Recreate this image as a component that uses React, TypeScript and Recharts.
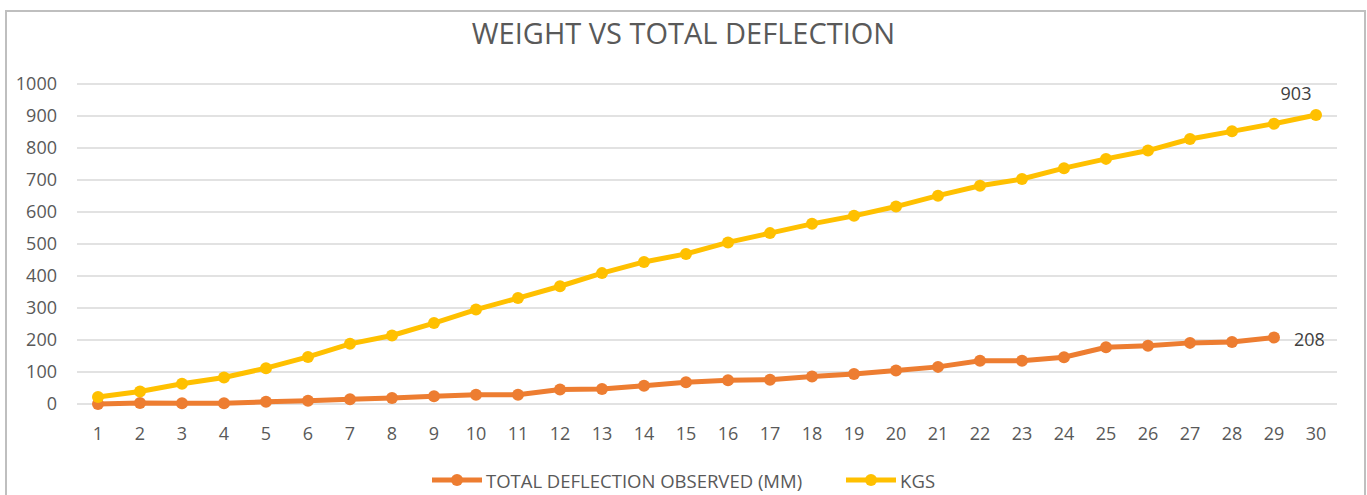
import { CartesianGrid, Legend, Line, LineChart, XAxis, YAxis } from "recharts";

const WIDTH = 1367;
const HEIGHT = 495;
const FONT = "'Open Sans', sans-serif";

const ORANGE = "#ED7D31";
const YELLOW = "#FFC000";

const steps = Array.from({ length: 30 }, (_, i) => String(i + 1));
const deflection = [
  0, 3, 2, 2, 7, 10, 15, 19, 24, 29, 29, 45, 47, 57, 68, 74, 76, 86, 94, 105, 116, 135, 135,
  146, 177, 182, 191, 194, 208,
];
const kgs = [
  22, 39, 63, 83, 112, 147, 188, 214, 253, 295, 331, 368, 409, 444, 469, 505, 534, 563, 588,
  617, 651, 682, 703, 737, 766, 792, 828, 852, 876, 903,
];
const yTicks = [0, 100, 200, 300, 400, 500, 600, 700, 800, 900, 1000];

const data = steps.map((s, i) => ({
  step: s,
  deflection: deflection[i],
  kgs: kgs[i],
}));

const legendItems = [
  { label: "TOTAL DEFLECTION OBSERVED (MM)", color: ORANGE },
  { label: "KGS", color: YELLOW },
];

function LegendContent() {
  return (
    <div
      style={{
        display: "flex",
        justifyContent: "center",
        alignItems: "center",
        gap: 44,
        height: 30,
        paddingLeft: 30,
      }}
    >
      {legendItems.map((it) => (
        <div key={it.label} style={{ display: "flex", alignItems: "center" }}>
          <svg width={50} height={14} style={{ marginRight: 4 }}>
            <line x1={0} y1={7} x2={50} y2={7} stroke={it.color} strokeWidth={5} />
            <circle cx={25} cy={7} r={6} fill={it.color} />
          </svg>
          <span style={{ fontFamily: FONT, fontSize: 18.5, color: "#595959" }}>{it.label}</span>
        </div>
      ))}
    </div>
  );
}

function endLabel(last: number, dx: number, dy: number, anchor: "start" | "middle") {
  return (props: any) => {
    const { x, y, index, value } = props;
    if (index !== last) return <g />;
    return (
      <text
        x={x + dx}
        y={y + dy}
        textAnchor={anchor}
        dominantBaseline="central"
        fontFamily={FONT}
        fontSize={18}
        fill="#404040"
      >
        {value}
      </text>
    );
  };
}

export default function App() {
  return (
    <div style={{ position: "absolute", left: 0, top: 0, width: WIDTH, height: HEIGHT, background: "#fff", overflow: "hidden" }}>
      <div
        style={{
          position: "absolute",
          left: 5,
          top: 10,
          width: 1357,
          height: 500,
          border: "2px solid #bfbfbf",
        }}
      />
      <div
        style={{
          position: "absolute",
          left: 0,
          top: 13,
          width: WIDTH,
          textAlign: "center",
          fontFamily: FONT,
          fontSize: 29,
          color: "#595959",
        }}
      >
        WEIGHT VS TOTAL DEFLECTION
      </div>
      <LineChart
        width={WIDTH}
        height={HEIGHT}
        data={data}
        margin={{ top: 84, right: 30, left: 0, bottom: 0 }}
        style={{ position: "absolute", left: 0, top: 0 }}
      >
        <CartesianGrid horizontal vertical={false} stroke="#d9d9d9" strokeWidth={1.5} />
        <XAxis
          dataKey="step"
          height={61}
          padding={{ left: 21, right: 21 }}
          axisLine={false}
          tickLine={false}
          tickMargin={17}
          interval={0}
          tick={{ fill: "#595959", fontSize: 18, fontFamily: FONT }}
        />
        <YAxis
          width={77}
          domain={[0, 1000]}
          ticks={yTicks}
          axisLine={false}
          tickLine={false}
          tickMargin={14}
          tick={{ fill: "#595959", fontSize: 18, fontFamily: FONT }}
        />
        <Legend verticalAlign="bottom" height={30} content={<LegendContent />} />
        <Line
          dataKey="deflection"
          name="TOTAL DEFLECTION OBSERVED (MM)"
          stroke={ORANGE}
          strokeWidth={5}
          dot={{ r: 6, fill: ORANGE, stroke: ORANGE, strokeWidth: 0 }}
          isAnimationActive={false}
          label={endLabel(deflection.length - 1, 20, 2, "start")}
        />
        <Line
          dataKey="kgs"
          name="KGS"
          stroke={YELLOW}
          strokeWidth={5}
          dot={{ r: 6, fill: YELLOW, stroke: YELLOW, strokeWidth: 0 }}
          isAnimationActive={false}
          label={endLabel(kgs.length - 1, -20, -22, "middle")}
        />
      </LineChart>
    </div>
  );
}
